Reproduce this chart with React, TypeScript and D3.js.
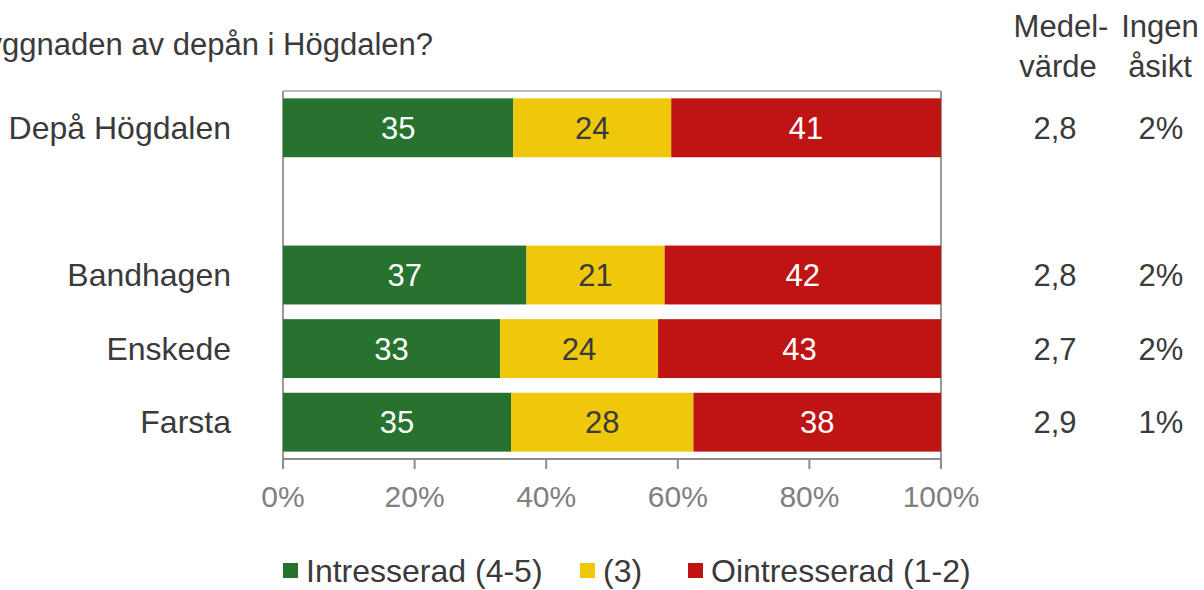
import React from "react";
import * as d3 from "d3";

const categories = ["Depå Högdalen", "", "Bandhagen", "Enskede", "Farsta"];
const interested = [35, null, 37, 33, 35];
const neutral = [24, null, 21, 24, 28];
const notInterested = [41, null, 42, 43, 38];
const meanValues = ["2,8", "", "2,8", "2,7", "2,9"];
const noOpinion = ["2%", "", "2%", "2%", "1%"];
const seriesNames = ["Intresserad (4-5)", "(3)", "Ointresserad (1-2)"];
const seriesColors = ["#27722f", "#efc80c", "#bf1414"];
const xTicks = [0, 0.2, 0.4, 0.6, 0.8, 1];

const W = 1204;
const H = 590;
const left = 283;
const right = 941;
const top = 91;
const bottom = 459;
const font = "'Liberation Sans', Arial, sans-serif";
const fs = 32;
const txt = "#3a3a3a";

export default function App() {
  const x = d3.scaleLinear().domain([0, 1]).range([left, right]);
  const y = d3.scaleBand().domain(categories).range([top, bottom]).paddingInner(0.2).paddingOuter(0.1);
  const fmt = d3.format(".0%");

  const rows = categories.map((c, i) => {
    const vals = [interested[i], neutral[i], notInterested[i]];
    if (vals[0] == null) return null;
    const total = d3.sum(vals as number[]);
    let acc = 0;
    const segs = (vals as number[]).map((v, k) => {
      const x0 = acc / total;
      acc += v;
      return { v, k, x0, x1: acc / total };
    });
    return { c, i, segs };
  });

  const legendX = [283, 580, 688];

  return (
    <svg width={W} height={H} style={{ position: "absolute", left: 0, top: 0, background: "#fff" }} fontFamily={font}>
      <text x={433} y={55} fontSize={31} fill={txt} textAnchor="end">yggnaden av depån i Högdalen?</text>
      <g fontSize={31} fill={txt} textAnchor="middle">
        <text x={1061} y={37}>Medel-</text>
        <text x={1058} y={77}>värde</text>
        <text x={1160} y={37}>Ingen</text>
        <text x={1160} y={77}>åsikt</text>
      </g>
      {/* plot frame */}
      <line x1={left} x2={right} y1={top} y2={top} stroke="#a6a6a6" strokeWidth={1.5} />
      <line x1={left} x2={left} y1={top} y2={bottom} stroke="#999" strokeWidth={2} />
      <line x1={right} x2={right} y1={top} y2={bottom} stroke="#999" strokeWidth={2} />
      <line x1={left} x2={right} y1={bottom} y2={bottom} stroke="#8c8c8c" strokeWidth={2} />
      {xTicks.map((t) => (
        <g key={t}>
          <line x1={x(t)} x2={x(t)} y1={bottom} y2={bottom + 10} stroke="#8c8c8c" strokeWidth={2} />
          <text x={x(t)} y={507} fontSize={30} fill="#808080" textAnchor="middle">{fmt(t)}</text>
        </g>
      ))}
      {rows.map((r) => {
        if (!r) return null;
        const yb = y(r.c)! + y.bandwidth() / 2 + 11;
        return (
          <g key={r.c}>
            {r.segs.map((s) => (
              <g key={s.k}>
                <rect x={x(s.x0)} y={y(r.c)!} width={x(s.x1) - x(s.x0)} height={y.bandwidth()} fill={seriesColors[s.k]} />
                <text
                  x={(x(s.x0) + x(s.x1)) / 2}
                  y={yb}
                  fontSize={31}
                  textAnchor="middle"
                  fill={s.k === 1 ? txt : "#fff"}
                >
                  {s.v}
                </text>
              </g>
            ))}
            <text x={231} y={yb} fontSize={fs} fill={txt} textAnchor="end">{r.c}</text>
            <text x={1055} y={yb} fontSize={31} fill={txt} textAnchor="middle">{meanValues[r.i]}</text>
            <text x={1161} y={yb} fontSize={31} fill={txt} textAnchor="middle">{noOpinion[r.i]}</text>
          </g>
        );
      })}
      {seriesNames.map((n, k) => (
        <g key={n}>
          <rect x={legendX[k]} y={563} width={15} height={15} fill={seriesColors[k]} />
          <text x={legendX[k] + 23} y={582} fontSize={fs} fill={txt}>{n}</text>
        </g>
      ))}
    </svg>
  );
}
